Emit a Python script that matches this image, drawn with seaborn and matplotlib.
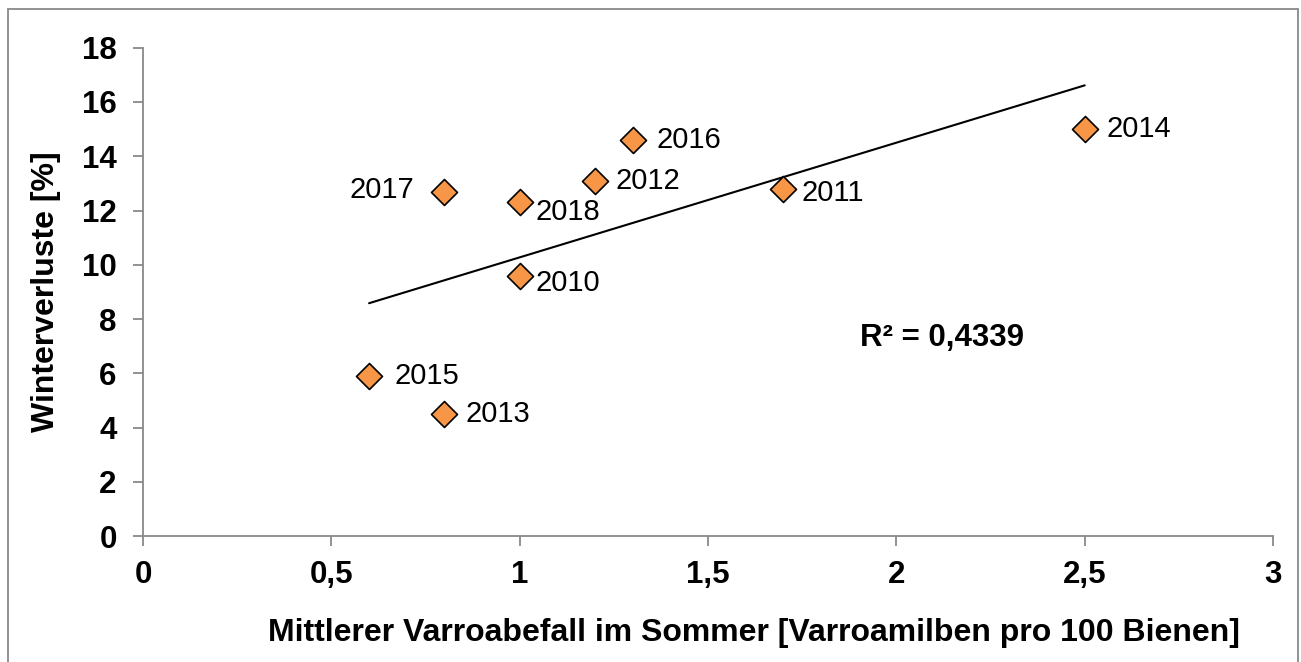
import matplotlib
matplotlib.use("Agg")
import matplotlib.pyplot as plt
from matplotlib.patches import Rectangle
from matplotlib.ticker import FuncFormatter
import seaborn as sns
import pandas as pd

# Daten
jahre = ["2010", "2011", "2012", "2013", "2014", "2015", "2016", "2017", "2018"]
varroa = [1.0, 1.7, 1.2, 0.8, 2.5, 0.6, 1.3, 0.8, 1.0]
verluste = [9.6, 12.8, 13.1, 4.5, 15.0, 5.9, 14.6, 12.7, 12.3]
# Versatz der Beschriftung in Punkten (x, y)
label_offset = [(11, -5), (13, -3), (15, 0), (15, 0), (16, 0), (18, 0), (17, 0), (-22, 1), (11, -7)]
label_ha = ["left", "left", "left", "left", "left", "left", "left", "right", "left"]
r2_text = "R² = 0,4339"

sns.set_style("white")
plt.rcParams['font.family'] = ['Liberation Sans', 'DejaVu Sans']
plt.rcParams['text.color'] = 'black'
plt.rcParams['axes.labelcolor'] = 'black'
plt.rcParams['xtick.color'] = 'black'
plt.rcParams['ytick.color'] = 'black'

df = pd.DataFrame({"varroa": varroa, "verluste": verluste, "jahr": jahre})

fig = plt.figure(figsize=(13.01, 6.62), dpi=100)
ax = fig.add_axes([0.110, 0.190, 0.8685, 0.738])

# Trendlinie
sns.regplot(data=df, x="varroa", y="verluste", ax=ax, ci=None, scatter=False,
            truncate=True, line_kws={"color": "black", "lw": 1.5})
sns.scatterplot(data=df, x="varroa", y="verluste", ax=ax, marker="D", s=175,
                color="#F79646", edgecolor="black", linewidth=1.2, zorder=3)

for j, xv, yv, off, ha in zip(jahre, varroa, verluste, label_offset, label_ha):
    ax.annotate(j, (xv, yv), xytext=off, textcoords="offset points",
                ha=ha, va="center", fontsize=21)

ax.text(2.12, 7.3, r2_text, ha="center", va="center", fontsize=22.5, fontweight="bold")

ax.set_xlim(0, 3)
ax.set_ylim(0, 18)
ax.set_xticks([0, 0.5, 1, 1.5, 2, 2.5, 3])
ax.set_yticks(range(0, 19, 2))
ax.xaxis.set_major_formatter(FuncFormatter(lambda v, p: f"{v:g}".replace(".", ",")))

for s in ["top", "right"]:
    ax.spines[s].set_visible(False)
for s in ["left", "bottom"]:
    ax.spines[s].set_color("#898989")
    ax.spines[s].set_linewidth(1.3)
ax.tick_params(axis="both", direction="out", length=7, width=1.3, color="#898989",
               labelsize=22.5, bottom=True, left=True)
ax.tick_params(axis="x", pad=10)
ax.tick_params(axis="y", pad=12)
for lab in ax.get_xticklabels() + ax.get_yticklabels():
    lab.set_fontweight("bold")

ax.set_xlabel("Mittlerer Varroabefall im Sommer [Varroamilben pro 100 Bienen]",
              fontsize=23, fontweight="bold")
ax.set_ylabel("Winterverluste [%]", fontsize=23, fontweight="bold")
ax.xaxis.set_label_coords(0.541, -0.168)
ax.yaxis.set_label_coords(-0.073, 0.5)

# Rahmen um das Diagramm
fig.patches.append(Rectangle((0.0065, -0.01), 0.991, 0.997, transform=fig.transFigure,
                             fill=False, edgecolor="#898989", lw=1.3))

fig.savefig("out.png", dpi=100)
